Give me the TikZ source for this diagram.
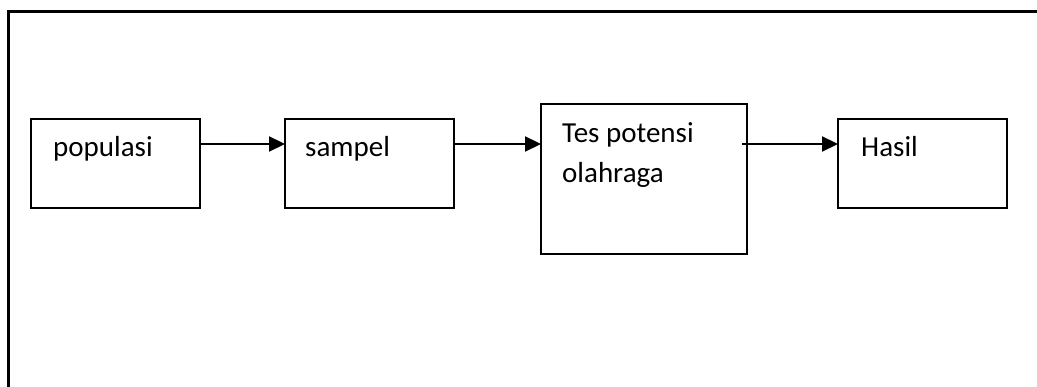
\documentclass[tikz,border=0pt]{standalone}
\usepackage{fontspec}
\setmainfont{Carlito}
\usetikzlibrary{arrows.meta}
\begin{document}
\begin{tikzpicture}[x=1pt,y=-1pt,
  box/.style={draw=black, line width=2pt, minimum width=#1, inner sep=0pt, outer sep=0pt},
  lbl/.style={anchor=base west, inner sep=0pt, font=\fontsize{29}{40}\selectfont},
  arr/.style={line width=2.2pt, -{Triangle[length=16pt,width=15pt]}},
  frame/.style={line width=3pt, line cap=butt}]
\useasboundingbox (0,0) rectangle (1037,387);
% outer frame (only top and left visible)
\coordinate (ftr) at (1040,12);
\coordinate (ftl) at (8,12);
\coordinate (fbl) at (8,390);
\draw[frame] (fbl) -- (ftl) -- (ftr);
% boxes
\node[box=169pt, minimum height=89pt] (pop) at (115.5,163.5) {};
\node[box=169pt, minimum height=89pt] (samp) at (369.5,163.5) {};
\node[box=206pt, minimum height=150pt] (tes) at (644,179) {};
\node[box=169pt, minimum height=89pt] (hasil) at (922.5,163.5) {};
% labels
\node[lbl] (tpop) at (53,157) {populasi};
\node[lbl] (tsamp) at (305,157) {sampel};
\node[lbl] (ttes1) at (562,143) {Tes potensi};
\node[lbl] (ttes2) at (562,183) {olahraga};
\node[lbl] (thasil) at (861,157) {Hasil};
% arrows
\draw[arr] ([yshift=-25pt]pop.north east) coordinate (a1) -- (samp.west |- a1);
\draw[arr] ([yshift=-25pt]samp.north east) coordinate (a2) -- (tes.west |- a2);
\draw[arr] ([xshift=-5pt,yshift=-40pt]tes.north east) coordinate (a3) -- (hasil.west |- a3);
\end{tikzpicture}
\end{document}
